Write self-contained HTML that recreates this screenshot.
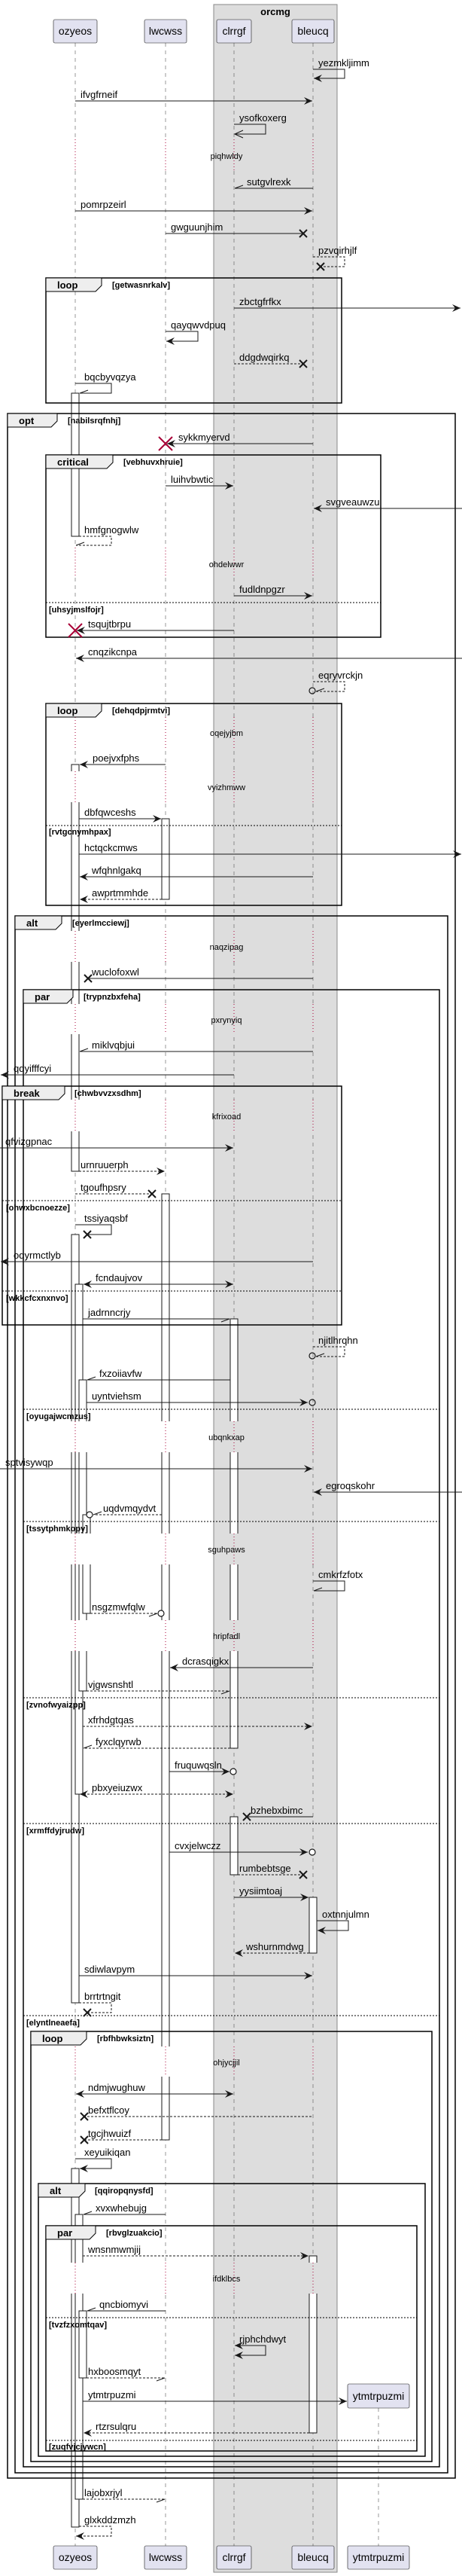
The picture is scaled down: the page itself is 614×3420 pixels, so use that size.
<!DOCTYPE html>
<html><head><meta charset="utf-8">
<style>
html,body{margin:0;padding:0;background:#fff;}
svg{display:block;}
.t{font-family:"Liberation Sans",sans-serif;font-size:13px;fill:#000;}
.dv{font-family:"Liberation Sans",sans-serif;font-size:11px;fill:#000;}
.b{font-family:"Liberation Sans",sans-serif;font-size:11px;font-weight:bold;fill:#000;}
.tb{font-family:"Liberation Sans",sans-serif;font-size:13px;font-weight:bold;fill:#000;}
.p{font-family:"Liberation Sans",sans-serif;font-size:14px;fill:#000;}
.s{stroke:#181818;stroke-width:1;fill:none;}
.d{stroke:#181818;stroke-width:1;fill:none;stroke-dasharray:3,2;}
.ll{stroke:#555;stroke-width:0.6;stroke-dasharray:5,5;}
.ac{fill:#fff;stroke:#181818;stroke-width:1;}
.fr{fill:none;stroke:#000;stroke-width:1.5;}
.tab{fill:#eee;stroke:#000;stroke-width:1;}
.el{stroke:#000;stroke-width:1;stroke-dasharray:2,2;}
.x{stroke:#181818;stroke-width:2;}
.rx{stroke:#A80036;stroke-width:2;}
.rd{stroke:#A80036;stroke-width:1;stroke-dasharray:1,3;}
.pb{fill:#E2E2F0;stroke:#181818;stroke-width:0.6;}
</style></head>
<body>
<svg width="614" height="3420" viewBox="0 0 614 3420" xmlns="http://www.w3.org/2000/svg">
<defs>
<marker id="f" viewBox="-12 -6 13 12" refX="0" refY="0" markerWidth="13" markerHeight="12" markerUnits="userSpaceOnUse" orient="auto-start-reverse"><path d="M0,0 L-11,-5 L-7,0 L-11,5Z" fill="#181818"/></marker>
<marker id="o" viewBox="-12 -6 13 12" refX="0" refY="0" markerWidth="13" markerHeight="12" markerUnits="userSpaceOnUse" orient="auto"><path d="M-11,-5 L0,0 L-11,5" fill="none" stroke="#181818"/></marker>
<marker id="h" viewBox="-12 -6 13 12" refX="0" refY="0" markerWidth="13" markerHeight="12" markerUnits="userSpaceOnUse" orient="auto"><path d="M-11,4 L0,0" fill="none" stroke="#181818"/></marker>
</defs>

<!-- group -->
<rect x="284" y="6" width="164" height="3409" fill="#DDDDDD" stroke="#888" stroke-width="1"/>
<text x="366" y="20" class="tb" text-anchor="middle">orcmg</text>

<!-- lifelines -->
<line class="ll" x1="100" y1="57" x2="100" y2="3380"/>
<line class="ll" x1="220" y1="57" x2="220" y2="3380"/>
<line class="ll" x1="311" y1="57" x2="311" y2="3380"/>
<line class="ll" x1="416" y1="57" x2="416" y2="3380"/>
<line class="ll" x1="503" y1="3197" x2="503" y2="3380"/>

<!-- participants -->
<rect class="pb" x="71" y="26" width="58" height="31" rx="2"/><text class="p" x="100" y="46" text-anchor="middle">ozyeos</text>
<rect class="pb" x="192" y="26" width="56" height="31" rx="2"/><text class="p" x="220" y="46" text-anchor="middle">lwcwss</text>
<rect class="pb" x="288" y="26" width="46" height="31" rx="2"/><text class="p" x="311" y="46" text-anchor="middle">clrrgf</text>
<rect class="pb" x="388" y="26" width="56" height="31" rx="2"/><text class="p" x="416" y="46" text-anchor="middle">bleucq</text>
<rect class="pb" x="462" y="3165" width="82" height="32" rx="2"/><text class="p" x="503" y="3186" text-anchor="middle">ytmtrpuzmi</text>

<rect class="pb" x="71" y="3380" width="58" height="31" rx="2"/><text class="p" x="100" y="3400" text-anchor="middle">ozyeos</text>
<rect class="pb" x="192" y="3380" width="56" height="31" rx="2"/><text class="p" x="220" y="3400" text-anchor="middle">lwcwss</text>
<rect class="pb" x="288" y="3380" width="46" height="31" rx="2"/><text class="p" x="311" y="3400" text-anchor="middle">clrrgf</text>
<rect class="pb" x="388" y="3380" width="56" height="31" rx="2"/><text class="p" x="416" y="3400" text-anchor="middle">bleucq</text>
<rect class="pb" x="462" y="3380" width="82" height="31" rx="2"/><text class="p" x="503" y="3400" text-anchor="middle">ytmtrpuzmi</text>

<!-- activations -->
<rect class="ac" x="95" y="522" width="10" height="190"/>
<rect class="ac" x="95" y="1015" width="10" height="540"/>
<rect class="ac" x="95" y="1639" width="10" height="1020"/>
<rect class="ac" x="100" y="1705" width="10" height="677"/>
<rect class="ac" x="105" y="1832" width="10" height="413"/>
<rect class="ac" x="110" y="2011" width="10" height="131"/>
<rect class="ac" x="95" y="2879" width="10" height="476"/>
<rect class="ac" x="100" y="2940" width="10" height="378"/>
<rect class="ac" x="105" y="3068" width="10" height="89"/>
<rect class="ac" x="215" y="1087" width="10" height="107"/>
<rect class="ac" x="215" y="1585" width="10" height="1256"/>
<rect class="ac" x="306" y="1751" width="10" height="570"/>
<rect class="ac" x="306" y="2412" width="10" height="77"/>
<rect class="ac" x="411" y="2519" width="10" height="74"/>
<rect class="ac" x="411" y="2995" width="10" height="235"/>

<!-- dividers -->
<g>
<rect x="92" y="185" width="32" height="42" fill="#fff"/><rect x="213" y="185" width="14" height="42" fill="#fff"/><rect x="304" y="185" width="14" height="42" fill="#ddd"/><rect x="409" y="185" width="14" height="42" fill="#ddd"/>
<line class="rd" x1="100" y1="185" x2="100" y2="227"/><line class="rd" x1="220" y1="185" x2="220" y2="227"/><line class="rd" x1="311" y1="185" x2="311" y2="227"/><line class="rd" x1="416" y1="185" x2="416" y2="227"/>
<text class="dv" x="301" y="211" text-anchor="middle">piqhwldy</text>

<rect x="92" y="727" width="32" height="40" fill="#fff"/><rect x="213" y="727" width="14" height="40" fill="#fff"/><rect x="304" y="727" width="14" height="40" fill="#ddd"/><rect x="409" y="727" width="14" height="40" fill="#ddd"/>
<line class="rd" x1="100" y1="727" x2="100" y2="767"/><line class="rd" x1="220" y1="727" x2="220" y2="767"/><line class="rd" x1="311" y1="727" x2="311" y2="767"/><line class="rd" x1="416" y1="727" x2="416" y2="767"/>
<text class="dv" x="301" y="753" text-anchor="middle">ohdelwwr</text>

<rect x="92" y="952" width="32" height="43" fill="#fff"/><rect x="213" y="952" width="14" height="43" fill="#fff"/><rect x="304" y="952" width="14" height="43" fill="#ddd"/><rect x="409" y="952" width="14" height="43" fill="#ddd"/>
<line class="rd" x1="100" y1="952" x2="100" y2="995"/><line class="rd" x1="220" y1="952" x2="220" y2="995"/><line class="rd" x1="311" y1="952" x2="311" y2="995"/><line class="rd" x1="416" y1="952" x2="416" y2="995"/>
<text class="dv" x="301" y="977" text-anchor="middle">oqejyjbm</text>

<rect x="92" y="1024" width="32" height="41" fill="#fff"/><rect x="213" y="1024" width="14" height="41" fill="#fff"/><rect x="304" y="1024" width="14" height="41" fill="#ddd"/><rect x="409" y="1024" width="14" height="41" fill="#ddd"/>
<line class="rd" x1="100" y1="1024" x2="100" y2="1065"/><line class="rd" x1="220" y1="1024" x2="220" y2="1065"/><line class="rd" x1="311" y1="1024" x2="311" y2="1065"/><line class="rd" x1="416" y1="1024" x2="416" y2="1065"/>
<text class="dv" x="301" y="1049" text-anchor="middle">vyizhmww</text>

<rect x="92" y="1236" width="32" height="41" fill="#fff"/><rect x="213" y="1236" width="14" height="41" fill="#fff"/><rect x="304" y="1236" width="14" height="41" fill="#ddd"/><rect x="409" y="1236" width="14" height="41" fill="#ddd"/>
<line class="rd" x1="100" y1="1236" x2="100" y2="1277"/><line class="rd" x1="220" y1="1236" x2="220" y2="1277"/><line class="rd" x1="311" y1="1236" x2="311" y2="1277"/><line class="rd" x1="416" y1="1236" x2="416" y2="1277"/>
<text class="dv" x="301" y="1261" text-anchor="middle">naqzipag</text>

<rect x="92" y="1333" width="32" height="40" fill="#fff"/><rect x="213" y="1333" width="14" height="40" fill="#fff"/><rect x="304" y="1333" width="14" height="40" fill="#ddd"/><rect x="409" y="1333" width="14" height="40" fill="#ddd"/>
<line class="rd" x1="100" y1="1333" x2="100" y2="1373"/><line class="rd" x1="220" y1="1333" x2="220" y2="1373"/><line class="rd" x1="311" y1="1333" x2="311" y2="1373"/><line class="rd" x1="416" y1="1333" x2="416" y2="1373"/>
<text class="dv" x="301" y="1358" text-anchor="middle">pxrynyiq</text>

<rect x="92" y="1460" width="32" height="42" fill="#fff"/><rect x="213" y="1460" width="14" height="42" fill="#fff"/><rect x="304" y="1460" width="14" height="42" fill="#ddd"/><rect x="409" y="1460" width="14" height="42" fill="#ddd"/>
<line class="rd" x1="100" y1="1460" x2="100" y2="1502"/><line class="rd" x1="220" y1="1460" x2="220" y2="1502"/><line class="rd" x1="311" y1="1460" x2="311" y2="1502"/><line class="rd" x1="416" y1="1460" x2="416" y2="1502"/>
<text class="dv" x="301" y="1486" text-anchor="middle">kfrixoad</text>

<rect x="92" y="1887" width="32" height="41" fill="#fff"/><rect x="213" y="1887" width="14" height="41" fill="#fff"/><rect x="304" y="1887" width="14" height="41" fill="#ddd"/><rect x="409" y="1887" width="14" height="41" fill="#ddd"/>
<line class="rd" x1="100" y1="1887" x2="100" y2="1928"/><line class="rd" x1="220" y1="1887" x2="220" y2="1928"/><line class="rd" x1="311" y1="1887" x2="311" y2="1928"/><line class="rd" x1="416" y1="1887" x2="416" y2="1928"/>
<text class="dv" x="301" y="1912" text-anchor="middle">ubqnkxap</text>

<rect x="92" y="2036" width="32" height="41" fill="#fff"/><rect x="213" y="2036" width="14" height="41" fill="#fff"/><rect x="304" y="2036" width="14" height="41" fill="#ddd"/><rect x="409" y="2036" width="14" height="41" fill="#ddd"/>
<line class="rd" x1="100" y1="2036" x2="100" y2="2077"/><line class="rd" x1="220" y1="2036" x2="220" y2="2077"/><line class="rd" x1="311" y1="2036" x2="311" y2="2077"/><line class="rd" x1="416" y1="2036" x2="416" y2="2077"/>
<text class="dv" x="301" y="2061" text-anchor="middle">sguhpaws</text>

<rect x="92" y="2151" width="32" height="41" fill="#fff"/><rect x="213" y="2151" width="14" height="41" fill="#fff"/><rect x="304" y="2151" width="14" height="41" fill="#ddd"/><rect x="409" y="2151" width="14" height="41" fill="#ddd"/>
<line class="rd" x1="100" y1="2151" x2="100" y2="2192"/><line class="rd" x1="220" y1="2151" x2="220" y2="2192"/><line class="rd" x1="311" y1="2151" x2="311" y2="2192"/><line class="rd" x1="416" y1="2151" x2="416" y2="2192"/>
<text class="dv" x="301" y="2176" text-anchor="middle">hripfadl</text>

<rect x="92" y="2717" width="32" height="40" fill="#fff"/><rect x="213" y="2717" width="14" height="40" fill="#fff"/><rect x="304" y="2717" width="14" height="40" fill="#ddd"/><rect x="409" y="2717" width="14" height="40" fill="#ddd"/>
<line class="rd" x1="100" y1="2717" x2="100" y2="2757"/><line class="rd" x1="220" y1="2717" x2="220" y2="2757"/><line class="rd" x1="311" y1="2717" x2="311" y2="2757"/><line class="rd" x1="416" y1="2717" x2="416" y2="2757"/>
<text class="dv" x="301" y="2742" text-anchor="middle">ohjycjjil</text>

<rect x="92" y="3004" width="32" height="41" fill="#fff"/><rect x="213" y="3004" width="14" height="41" fill="#fff"/><rect x="304" y="3004" width="14" height="41" fill="#ddd"/><rect x="409" y="3004" width="14" height="41" fill="#ddd"/>
<line class="rd" x1="100" y1="3004" x2="100" y2="3045"/><line class="rd" x1="220" y1="3004" x2="220" y2="3045"/><line class="rd" x1="311" y1="3004" x2="311" y2="3045"/><line class="rd" x1="416" y1="3004" x2="416" y2="3045"/>
<text class="dv" x="301" y="3029" text-anchor="middle">ifdklbcs</text>
</g>

<!-- fragments -->
<g>
<rect class="fr" x="61" y="369" width="393" height="166"/><path class="tab" d="M61,369 H135 V379 L127,387 H61Z"/><text class="tb" x="76" y="383">loop</text><text class="b" x="149" y="382">[getwasnrkalv]</text>

<rect class="fr" x="10" y="549" width="595" height="2741"/><path class="tab" d="M10,549 H76 V559 L68,567 H10Z"/><text class="tb" x="25" y="563">opt</text><text class="b" x="90" y="562">[nabilsrqfnhj]</text>

<rect class="fr" x="61" y="604" width="445" height="242"/><path class="tab" d="M61,604 H150 V614 L142,622 H61Z"/><text class="tb" x="76" y="618">critical</text><text class="b" x="164" y="617">[vebhuvxhruie]</text>
<line class="el" x1="61" y1="800" x2="506" y2="800"/><text class="b" x="65" y="813">[uhsyjmslfojr]</text>

<rect class="fr" x="61" y="934" width="393" height="268"/><path class="tab" d="M61,934 H135 V944 L127,952 H61Z"/><text class="tb" x="76" y="948">loop</text><text class="b" x="149" y="947">[dehqdpjrmtvi]</text>
<line class="el" x1="61" y1="1096" x2="454" y2="1096"/><text class="b" x="65" y="1108">[rvtgcnymhpax]</text>

<rect class="fr" x="20" y="1216" width="575" height="2067"/><path class="tab" d="M20,1216 H82 V1226 L74,1234 H20Z"/><text class="tb" x="35" y="1230">alt</text><text class="b" x="96" y="1229">[eyerlmcciewj]</text>

<rect class="fr" x="31" y="1314" width="553" height="1961"/><path class="tab" d="M31,1314 H97 V1324 L89,1332 H31Z"/><text class="tb" x="46" y="1328">par</text><text class="b" x="111" y="1327">[trypnzbxfeha]</text>
<line class="el" x1="31" y1="1871" x2="584" y2="1871"/><text class="b" x="35" y="1884">[oyugajwcmzus]</text>
<line class="el" x1="31" y1="2020" x2="584" y2="2020"/><text class="b" x="35" y="2033">[tssytphmkopy]</text>
<line class="el" x1="31" y1="2254" x2="584" y2="2254"/><text class="b" x="35" y="2267">[zvnofwyaizpp]</text>
<line class="el" x1="31" y1="2421" x2="584" y2="2421"/><text class="b" x="35" y="2434">[xrmffdyjrudw]</text>
<line class="el" x1="31" y1="2676" x2="584" y2="2676"/><text class="b" x="35" y="2689">[elyntlneaefa]</text>

<rect class="fr" x="3" y="1442" width="451" height="317"/><path class="tab" d="M3,1442 H86 V1452 L78,1460 H3Z"/><text class="tb" x="18" y="1456">break</text><text class="b" x="99" y="1455">[chwbvvzxsdhm]</text>
<line class="el" x1="3" y1="1594" x2="454" y2="1594"/><text class="b" x="8" y="1607">[ohwxbcnoezze]</text>
<line class="el" x1="3" y1="1714" x2="454" y2="1714"/><text class="b" x="8" y="1727">[wkkcfcxnxnvo]</text>

<rect class="fr" x="41" y="2697" width="533" height="571"/><path class="tab" d="M41,2697 H115 V2707 L107,2715 H41Z"/><text class="tb" x="56" y="2711">loop</text><text class="b" x="129" y="2710">[rbfhbwksiztn]</text>

<rect class="fr" x="51" y="2899" width="514" height="362"/><path class="tab" d="M51,2899 H113 V2909 L105,2917 H51Z"/><text class="tb" x="66" y="2913">alt</text><text class="b" x="126" y="2912">[qqiropqnysfd]</text>

<rect class="fr" x="61" y="2955" width="493" height="299"/><path class="tab" d="M61,2955 H127 V2965 L119,2973 H61Z"/><text class="tb" x="76" y="2969">par</text><text class="b" x="141" y="2968">[rbvglzuakcio]</text>
<line class="el" x1="61" y1="3077" x2="554" y2="3077"/><text class="b" x="65" y="3090">[tvzfzxomtqav]</text>
<line class="el" x1="61" y1="3240" x2="554" y2="3240"/><text class="b" x="65" y="3252">[zuqfvjcjywcn]</text>
</g>

<!-- messages -->
<g>
<path class="s" d="M416,92 H458 V104 H417" marker-end="url(#f)"/><text class="t" x="423" y="88">yezmkljimm</text>
<line class="s" x1="100" y1="134" x2="415" y2="134" marker-end="url(#f)"/><text class="t" x="107" y="130">ifvgfrneif</text>
<path class="s" d="M311,165 H353 V178 H312" marker-end="url(#o)"/><text class="t" x="318" y="161">ysofkoxerg</text>
<line class="s" x1="416" y1="250" x2="312" y2="250" marker-end="url(#h)"/><text class="t" x="328" y="246">sutgvlrexk</text>
<line class="s" x1="100" y1="280" x2="415" y2="280" marker-end="url(#f)"/><text class="t" x="107" y="276">pomrpzeirl</text>
<line class="s" x1="220" y1="310" x2="403" y2="310"/><path class="x" d="M398,305 L408,315 M408,305 L398,315"/><text class="t" x="227" y="306">gwguunjhim</text>
<path class="d" d="M416,341 H458 V354 H426"/><path class="x" d="M421,349 L431,359 M431,349 L421,359"/><text class="t" x="423" y="337">pzvqirhjlf</text>
<line class="s" x1="311" y1="409" x2="612" y2="409" marker-end="url(#f)"/><text class="t" x="318" y="405">zbctgfrfkx</text>
<path class="s" d="M220,440 H263 V453 H221" marker-end="url(#f)"/><text class="t" x="227" y="436">qayqwvdpuq</text>
<line class="d" x1="311" y1="483" x2="403" y2="483"/><path class="x" d="M398,478 L408,488 M408,478 L398,488"/><text class="t" x="318" y="479">ddgdwqirkq</text>
<path class="s" d="M100,509 H148 V522 H106" marker-end="url(#h)"/><text class="t" x="112" y="505">bqcbyvqzya</text>
<line class="s" x1="416" y1="589" x2="222" y2="589" marker-end="url(#f)"/><path class="rx" d="M211,580 L229,598 M229,580 L211,598"/><text class="t" x="237" y="585">sykkmyervd</text>
<line class="s" x1="220" y1="645" x2="310" y2="645" marker-end="url(#f)"/><text class="t" x="227" y="641">luihvbwtic</text>
<line class="s" x1="614" y1="675" x2="417" y2="675" marker-end="url(#f)"/><text class="t" x="433" y="671">svgveauwzu</text>
<path class="d" d="M105,712 H148 V724 H101" marker-end="url(#h)"/><text class="t" x="112" y="708">hmfgnogwlw</text>
<line class="s" x1="311" y1="791" x2="415" y2="791" marker-end="url(#f)"/><text class="t" x="318" y="787">fudldnpgzr</text>
<line class="s" x1="311" y1="837" x2="102" y2="837" marker-end="url(#f)"/><path class="rx" d="M91,828 L109,846 M109,828 L91,846"/><text class="t" x="117" y="833">tsqujtbrpu</text>
<line class="s" x1="614" y1="874" x2="101" y2="874" marker-end="url(#f)"/><text class="t" x="117" y="870">cnqzikcnpa</text>
<path class="d" d="M416,905 H458 V918 H420" marker-end="url(#h)"/><circle cx="415" cy="917" r="4" fill="none" stroke="#181818" stroke-width="1.2"/><text class="t" x="423" y="901">eqryvrckjn</text>
<line class="s" x1="220" y1="1015" x2="106" y2="1015" marker-end="url(#f)"/><text class="t" x="123" y="1011">poejvxfphs</text>
<line class="s" x1="105" y1="1087" x2="214" y2="1087" marker-end="url(#f)"/><text class="t" x="112" y="1083">dbfqwceshs</text>
<line class="s" x1="105" y1="1134" x2="613" y2="1134" marker-end="url(#f)"/><text class="t" x="112" y="1130">hctqckcmws</text>
<line class="s" x1="416" y1="1164" x2="106" y2="1164" marker-end="url(#f)"/><text class="t" x="122" y="1160">wfqhnlgakq</text>
<line class="d" x1="215" y1="1194" x2="106" y2="1194" marker-end="url(#f)"/><text class="t" x="122" y="1190">awprtmmhde</text>
<line class="s" x1="416" y1="1299" x2="117" y2="1299"/><path class="x" d="M112,1294 L122,1304 M122,1294 L112,1304"/><text class="t" x="122" y="1295">wuclofoxwl</text>
<line class="s" x1="416" y1="1396" x2="106" y2="1396" marker-end="url(#h)"/><text class="t" x="122" y="1392">miklvqbjui</text>
<line class="s" x1="311" y1="1427" x2="1" y2="1427" marker-end="url(#f)"/><text class="t" x="18" y="1423">qdyifffcyi</text>
<line class="s" x1="0" y1="1524" x2="310" y2="1524" marker-end="url(#f)"/><text class="t" x="7" y="1520">qfvizgpnac</text>
<line class="d" x1="105" y1="1555" x2="219" y2="1555" marker-end="url(#f)"/><text class="t" x="107" y="1551">urnruuerph</text>
<line class="d" x1="100" y1="1585" x2="202" y2="1585"/><path class="x" d="M197,1580 L207,1590 M207,1580 L197,1590"/><text class="t" x="107" y="1581">tgoufhpsry</text>
<path class="s" d="M100,1626 H148 V1639 H116"/><path class="x" d="M111,1634 L121,1644 M121,1634 L111,1644"/><text class="t" x="112" y="1622">tssiyaqsbf</text>
<line class="s" x1="416" y1="1675" x2="1" y2="1675" marker-end="url(#f)"/><text class="t" x="18" y="1671">oqyrmctlyb</text>
<line class="s" x1="111" y1="1705" x2="310" y2="1705" marker-start="url(#f)" marker-end="url(#f)"/><text class="t" x="127" y="1701">fcndaujvov</text>
<line class="s" x1="110" y1="1751" x2="305" y2="1751" marker-end="url(#h)"/><text class="t" x="117" y="1747">jadrnncrjy</text>
<path class="d" d="M416,1788 H458 V1801 H420" marker-end="url(#h)"/><circle cx="415" cy="1800" r="4" fill="none" stroke="#181818" stroke-width="1.2"/><text class="t" x="423" y="1784">njitlhrqhn</text>
<line class="s" x1="306" y1="1832" x2="116" y2="1832" marker-end="url(#h)"/><text class="t" x="132" y="1828">fxzoiiavfw</text>
<line class="s" x1="115" y1="1862" x2="409" y2="1862" marker-end="url(#f)"/><circle cx="415" cy="1862" r="4" fill="none" stroke="#181818" stroke-width="1.2"/><text class="t" x="122" y="1858">uyntviehsm</text>
<line class="s" x1="0" y1="1950" x2="415" y2="1950" marker-end="url(#f)"/><text class="t" x="7" y="1946">sptvisywqp</text>
<line class="s" x1="614" y1="1981" x2="417" y2="1981" marker-end="url(#f)"/><text class="t" x="433" y="1977">egroqskohr</text>
<line class="d" x1="215" y1="2011" x2="124" y2="2011" marker-end="url(#h)"/><circle cx="119" cy="2011" r="4" fill="#fff" stroke="#181818" stroke-width="1.2"/><text class="t" x="137" y="2007">uqdvmqydvt</text>
<path class="s" d="M416,2099 H458 V2112 H417" marker-end="url(#h)"/><text class="t" x="423" y="2095">cmkrfzfotx</text>
<line class="d" x1="120" y1="2142" x2="209" y2="2142" marker-end="url(#h)"/><circle cx="214" cy="2142" r="4" fill="#fff" stroke="#181818" stroke-width="1.2"/><text class="t" x="122" y="2138">nsgzmwfqlw</text>
<line class="s" x1="416" y1="2214" x2="226" y2="2214" marker-end="url(#f)"/><text class="t" x="242" y="2210">dcrasqigkx</text>
<line class="d" x1="115" y1="2245" x2="305" y2="2245" marker-end="url(#h)"/><text class="t" x="117" y="2241">vjgwsnshtl</text>
<line class="d" x1="110" y1="2292" x2="415" y2="2292" marker-end="url(#f)"/><text class="t" x="117" y="2288">xfrhdgtqas</text>
<line class="d" x1="306" y1="2321" x2="111" y2="2321" marker-end="url(#h)"/><text class="t" x="127" y="2317">fyxclqyrwb</text>
<line class="s" x1="225" y1="2352" x2="305" y2="2352" marker-end="url(#f)"/><circle cx="310" cy="2352" r="4" fill="#fff" stroke="#181818" stroke-width="1.2"/><text class="t" x="232" y="2348">fruquwqsln</text>
<line class="d" x1="106" y1="2382" x2="310" y2="2382" marker-start="url(#f)" marker-end="url(#f)"/><text class="t" x="122" y="2378">pbxyeiuzwx</text>
<line class="s" x1="416" y1="2412" x2="328" y2="2412"/><path class="x" d="M323,2407 L333,2417 M333,2407 L323,2417"/><text class="t" x="333" y="2408">bzhebxbimc</text>
<line class="s" x1="225" y1="2459" x2="409" y2="2459" marker-end="url(#f)"/><circle cx="415" cy="2459" r="4" fill="#fff" stroke="#181818" stroke-width="1.2"/><text class="t" x="232" y="2455">cvxjelwczz</text>
<line class="d" x1="316" y1="2489" x2="403" y2="2489"/><path class="x" d="M398,2484 L408,2494 M408,2484 L398,2494"/><text class="t" x="318" y="2485">rumbebtsge</text>
<line class="s" x1="311" y1="2519" x2="410" y2="2519" marker-end="url(#f)"/><text class="t" x="318" y="2515">yysiimtoaj</text>
<path class="s" d="M421,2550 H463 V2563 H422" marker-end="url(#f)"/><text class="t" x="428" y="2546">oxtnnjulmn</text>
<line class="d" x1="411" y1="2593" x2="312" y2="2593" marker-end="url(#f)"/><text class="t" x="327" y="2589">wshurnmdwg</text>
<line class="s" x1="105" y1="2623" x2="415" y2="2623" marker-end="url(#f)"/><text class="t" x="112" y="2619">sdiwlavpym</text>
<path class="d" d="M105,2659 H148 V2672 H116"/><path class="x" d="M111,2667 L121,2677 M121,2667 L111,2677"/><text class="t" x="112" y="2655">brrtrtngit</text>
<line class="s" x1="101" y1="2780" x2="310" y2="2780" marker-start="url(#f)" marker-end="url(#f)"/><text class="t" x="117" y="2776">ndmjwughuw</text>
<line class="d" x1="414" y1="2810" x2="112" y2="2810"/><path class="x" d="M107,2805 L117,2815 M117,2805 L107,2815"/><text class="t" x="117" y="2806">befxtflcoy</text>
<line class="d" x1="215" y1="2841" x2="112" y2="2841"/><path class="x" d="M107,2836 L117,2846 M117,2836 L107,2846"/><text class="t" x="117" y="2837">tgcjhwuizf</text>
<path class="s" d="M100,2866 H148 V2879 H106" marker-end="url(#f)"/><text class="t" x="112" y="2862">xeyuikiqan</text>
<line class="s" x1="220" y1="2940" x2="111" y2="2940" marker-end="url(#h)"/><text class="t" x="127" y="2936">xvxwhebujg</text>
<line class="d" x1="110" y1="2995" x2="410" y2="2995" marker-end="url(#f)"/><text class="t" x="117" y="2991">wnsnmwmjij</text>
<line class="s" x1="220" y1="3068" x2="116" y2="3068" marker-end="url(#h)"/><text class="t" x="132" y="3064">qncbiomyvi</text>
<path class="s" d="M312,3114 H353 V3127 H312" marker-start="url(#f)" marker-end="url(#f)"/><text class="t" x="318" y="3110">rjphchdwyt</text>
<line class="d" x1="115" y1="3157" x2="219" y2="3157" marker-end="url(#h)"/><text class="t" x="117" y="3153">hxboosmqyt</text>
<line class="s" x1="110" y1="3188" x2="461" y2="3188" marker-end="url(#f)"/><text class="t" x="117" y="3184">ytmtrpuzmi</text>
<line class="d" x1="411" y1="3230" x2="111" y2="3230" marker-end="url(#f)"/><text class="t" x="127" y="3226">rtzrsulqru</text>
<line class="d" x1="110" y1="3318" x2="219" y2="3318" marker-end="url(#h)"/><text class="t" x="112" y="3314">lajobxrjyl</text>
<path class="d" d="M105,3354 H148 V3367 H101" marker-end="url(#f)"/><text class="t" x="112" y="3350">glxkddzmzh</text>
</g>
</svg>
</body></html>
